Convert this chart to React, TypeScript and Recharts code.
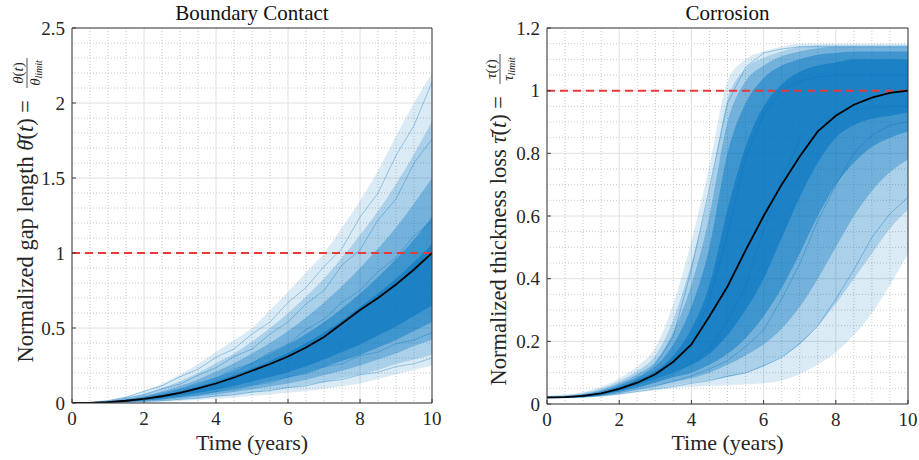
import React from 'react';
import { ComposedChart, Area, Line, XAxis, YAxis, CartesianGrid, ReferenceLine, Label } from 'recharts';

// ---------- data ----------
const TIME = [0, 0.5, 1, 1.5, 2, 2.5, 3, 3.5, 4, 4.5, 5, 5.5, 6, 6.5, 7, 7.5, 8, 8.5, 9, 9.5, 10];
const X_TICKS = [0, 2, 4, 6, 8, 10];
const X_MINOR = [0.5, 1, 1.5, 2.5, 3, 3.5, 4.5, 5, 5.5, 6.5, 7, 7.5, 8.5, 9, 9.5];
const LIMIT = 1;

// Boundary contact (left): mean path, density bands of the simulated paths (outer -> inner), sample paths
const L_Y_TICKS = [0, 0.5, 1, 1.5, 2, 2.5];
const L_Y_MINOR = [0.1, 0.2, 0.3, 0.4, 0.6, 0.7, 0.8, 0.9, 1.1, 1.2, 1.3, 1.4, 1.6, 1.7, 1.8, 1.9, 2.1, 2.2, 2.3, 2.4];
const L_MEAN = [0, 0.001, 0.006, 0.015, 0.028, 0.045, 0.068, 0.097, 0.13, 0.17, 0.215, 0.26, 0.31, 0.37, 0.44, 0.53, 0.62, 0.7, 0.79, 0.89, 1.0];
const L_B1_HI = [0, 0.006, 0.018, 0.045, 0.08, 0.13, 0.19, 0.26, 0.34, 0.42, 0.5, 0.62, 0.74, 0.87, 1.0, 1.17, 1.35, 1.55, 1.78, 2.0, 2.2];
const L_B1_LO = [0, 0, 0, 0.001, 0.004, 0.008, 0.013, 0.02, 0.028, 0.037, 0.047, 0.057, 0.068, 0.08, 0.095, 0.112, 0.13, 0.16, 0.19, 0.22, 0.25];
const L_B2_HI = [0, 0.004, 0.013, 0.034, 0.062, 0.1, 0.145, 0.2, 0.265, 0.33, 0.41, 0.5, 0.6, 0.71, 0.83, 0.97, 1.12, 1.28, 1.46, 1.66, 1.88];
const L_B2_LO = [0, 0, 0.001, 0.004, 0.008, 0.014, 0.022, 0.032, 0.043, 0.056, 0.07, 0.085, 0.1, 0.12, 0.14, 0.165, 0.19, 0.22, 0.26, 0.29, 0.32];
const L_B3_HI = [0, 0.003, 0.01, 0.026, 0.048, 0.077, 0.113, 0.157, 0.21, 0.265, 0.33, 0.4, 0.48, 0.57, 0.67, 0.78, 0.9, 1.03, 1.17, 1.33, 1.5];
const L_B3_LO = [0, 0, 0.002, 0.006, 0.012, 0.02, 0.03, 0.043, 0.057, 0.073, 0.09, 0.11, 0.13, 0.155, 0.185, 0.215, 0.25, 0.29, 0.33, 0.38, 0.42];
const L_B4_HI = [0, 0.002, 0.008, 0.021, 0.039, 0.063, 0.092, 0.128, 0.17, 0.215, 0.27, 0.33, 0.39, 0.46, 0.54, 0.63, 0.73, 0.84, 0.96, 1.09, 1.24];
const L_B4_LO = [0, 0, 0.003, 0.008, 0.016, 0.027, 0.04, 0.056, 0.074, 0.095, 0.118, 0.143, 0.17, 0.2, 0.24, 0.28, 0.32, 0.37, 0.42, 0.48, 0.54];
const L_B5_HI = [0, 0.0015, 0.007, 0.018, 0.033, 0.053, 0.078, 0.108, 0.145, 0.185, 0.23, 0.28, 0.335, 0.4, 0.47, 0.55, 0.64, 0.73, 0.83, 0.94, 1.06];
const L_B5_LO = [0, 0, 0.004, 0.01, 0.02, 0.033, 0.05, 0.068, 0.09, 0.115, 0.143, 0.173, 0.205, 0.245, 0.29, 0.34, 0.39, 0.45, 0.51, 0.58, 0.65];
const L_P1 = [0, 0.004, 0.016, 0.038, 0.078, 0.115, 0.175, 0.225, 0.305, 0.36, 0.46, 0.54, 0.67, 0.77, 0.91, 1.03, 1.24, 1.4, 1.65, 1.85, 2.14];
const L_P2 = [0, 0.003, 0.011, 0.032, 0.055, 0.094, 0.126, 0.185, 0.235, 0.31, 0.36, 0.46, 0.54, 0.66, 0.75, 0.92, 1.02, 1.22, 1.36, 1.6, 1.76];
const L_P3 = [0, 0, 0.002, 0.004, 0.011, 0.015, 0.025, 0.031, 0.047, 0.054, 0.072, 0.082, 0.103, 0.114, 0.142, 0.156, 0.188, 0.205, 0.243, 0.262, 0.3];
const L_P4 = [0, 0.001, 0.005, 0.009, 0.02, 0.026, 0.043, 0.052, 0.076, 0.088, 0.118, 0.135, 0.174, 0.194, 0.24, 0.262, 0.315, 0.34, 0.395, 0.42, 0.47];
const L_P5 = [0, 0.002, 0.008, 0.022, 0.038, 0.068, 0.092, 0.134, 0.166, 0.226, 0.264, 0.338, 0.392, 0.49, 0.56, 0.672, 0.75, 0.875, 0.97, 1.115, 1.21];

// Corrosion (right)
const R_Y_TICKS = [0, 0.2, 0.4, 0.6, 0.8, 1, 1.2];
const R_Y_MINOR = [0.05, 0.1, 0.15, 0.25, 0.3, 0.35, 0.45, 0.5, 0.55, 0.65, 0.7, 0.75, 0.85, 0.9, 0.95, 1.05, 1.1, 1.15];
const R_MEAN = [0.021, 0.022, 0.026, 0.034, 0.048, 0.068, 0.095, 0.135, 0.19, 0.28, 0.375, 0.49, 0.6, 0.7, 0.79, 0.87, 0.92, 0.955, 0.978, 0.993, 1.0];
const R_B1_HI = [0.027, 0.03, 0.038, 0.055, 0.082, 0.12, 0.18, 0.32, 0.52, 0.76, 1.03, 1.1, 1.125, 1.14, 1.15, 1.15, 1.15, 1.15, 1.15, 1.15, 1.15];
const R_B1_LO = [0.017, 0.018, 0.02, 0.023, 0.029, 0.036, 0.043, 0.05, 0.055, 0.058, 0.06, 0.062, 0.066, 0.075, 0.095, 0.125, 0.165, 0.22, 0.29, 0.38, 0.48];
const R_B2_HI = [0.025, 0.028, 0.035, 0.05, 0.073, 0.105, 0.155, 0.27, 0.45, 0.68, 0.97, 1.07, 1.105, 1.125, 1.14, 1.145, 1.145, 1.145, 1.145, 1.145, 1.145];
const R_B2_LO = [0.018, 0.019, 0.021, 0.025, 0.033, 0.042, 0.05, 0.06, 0.068, 0.076, 0.085, 0.1, 0.12, 0.15, 0.19, 0.25, 0.32, 0.4, 0.48, 0.56, 0.62];
const R_B3_HI = [0.024, 0.026, 0.032, 0.045, 0.066, 0.095, 0.135, 0.23, 0.38, 0.6, 0.9, 1.03, 1.08, 1.11, 1.125, 1.135, 1.14, 1.14, 1.14, 1.14, 1.14];
const R_B3_LO = [0.019, 0.02, 0.022, 0.027, 0.036, 0.047, 0.058, 0.07, 0.082, 0.1, 0.125, 0.155, 0.19, 0.24, 0.31, 0.4, 0.5, 0.6, 0.68, 0.74, 0.78];
const R_B4_HI = [0.023, 0.025, 0.03, 0.041, 0.06, 0.085, 0.12, 0.19, 0.31, 0.5, 0.8, 0.96, 1.04, 1.08, 1.1, 1.115, 1.12, 1.125, 1.125, 1.125, 1.125];
const R_B4_LO = [0.019, 0.02, 0.023, 0.029, 0.04, 0.053, 0.068, 0.085, 0.1, 0.125, 0.16, 0.21, 0.28, 0.37, 0.48, 0.6, 0.7, 0.77, 0.82, 0.85, 0.87];
const R_B5_HI = [0.022, 0.024, 0.028, 0.037, 0.054, 0.076, 0.105, 0.155, 0.24, 0.38, 0.62, 0.82, 0.95, 1.02, 1.06, 1.08, 1.09, 1.1, 1.1, 1.1, 1.1];
const R_B5_LO = [0.02, 0.021, 0.024, 0.031, 0.044, 0.06, 0.08, 0.1, 0.125, 0.16, 0.22, 0.3, 0.4, 0.53, 0.66, 0.77, 0.85, 0.89, 0.91, 0.92, 0.93];
const R_P1 = [0.02, 0.022, 0.027, 0.033, 0.052, 0.073, 0.124, 0.215, 0.43, 0.69, 0.96, 1.075, 1.12, 1.133, 1.14, 1.14, 1.14, 1.14, 1.14, 1.14, 1.14];
const R_P2 = [0.02, 0.021, 0.025, 0.033, 0.044, 0.067, 0.088, 0.134, 0.195, 0.335, 0.54, 0.785, 0.925, 1.0, 1.03, 1.044, 1.05, 1.05, 1.05, 1.05, 1.05];
const R_P3 = [0.02, 0.021, 0.024, 0.03, 0.041, 0.054, 0.074, 0.093, 0.133, 0.176, 0.265, 0.375, 0.555, 0.715, 0.845, 0.898, 0.93, 0.94, 0.945, 0.95, 0.95];
const R_P4 = [0.02, 0.021, 0.023, 0.028, 0.036, 0.047, 0.057, 0.073, 0.089, 0.112, 0.138, 0.183, 0.236, 0.335, 0.447, 0.585, 0.698, 0.8, 0.858, 0.89, 0.9];
const R_P5 = [0.02, 0.02, 0.022, 0.026, 0.032, 0.04, 0.048, 0.056, 0.066, 0.074, 0.089, 0.099, 0.122, 0.148, 0.193, 0.248, 0.335, 0.428, 0.532, 0.607, 0.66];

type Row = { [k: string]: number | number[] };
const build = (mean: number[], bands: number[][][], paths: number[][]): Row[] =>
  TIME.map((t, i) => {
    const row: Row = { t, mean: mean[i] };
    bands.forEach(([lo, hi], k) => {
      row['b' + (k + 1)] = [lo[i], hi[i]];
    });
    paths.forEach((p, k) => {
      row['p' + (k + 1)] = p[i];
    });
    return row;
  });

const LEFT_DATA = build(
  L_MEAN,
  [
    [L_B1_LO, L_B1_HI],
    [L_B2_LO, L_B2_HI],
    [L_B3_LO, L_B3_HI],
    [L_B4_LO, L_B4_HI],
    [L_B5_LO, L_B5_HI],
  ],
  [L_P1, L_P2, L_P3, L_P4, L_P5],
);
const RIGHT_DATA = build(
  R_MEAN,
  [
    [R_B1_LO, R_B1_HI],
    [R_B2_LO, R_B2_HI],
    [R_B3_LO, R_B3_HI],
    [R_B4_LO, R_B4_HI],
    [R_B5_LO, R_B5_HI],
  ],
  [R_P1, R_P2, R_P3, R_P4, R_P5],
);

// ---------- style ----------
const FONT = "'Liberation Serif', 'Noto Serif', 'DejaVu Serif', 'Noto Sans', sans-serif";
const BLUE = '#0072BD';
const BAND_OPACITY = [0.14, 0.22, 0.32, 0.45, 0.55];
const PATH_KEYS = ['p1', 'p2', 'p3', 'p4', 'p5'];
const AXIS = '#3a3a3a';
const TXT = '#262626';

const YLabel = ({ bx, ey, text, sym, size }: { bx: number; ey: number; text: string; sym: string; size: number }) => (
  <g transform={`translate(${bx},${ey}) rotate(-90)`} fill={TXT}>
    <text x={0} y={0} textAnchor="end" fontSize={size} fontFamily={FONT}>
      {text}
      <tspan fontStyle="italic">{sym + '\u0304'}</tspan>(<tspan fontStyle="italic">t</tspan>) =
    </text>
    <text x={27} y={-10} textAnchor="middle" fontSize={15} fontFamily={FONT}>
      <tspan fontStyle="italic">{sym}</tspan>(<tspan fontStyle="italic">t</tspan>)
    </text>
    <line x1={12} x2={42} y1={-6} y2={-6} stroke={TXT} strokeWidth={0.8} />
    <text x={27} y={7} textAnchor="middle" fontSize={15} fontFamily={FONT}>
      <tspan fontStyle="italic">{sym}</tspan>
      <tspan fontStyle="italic" fontSize={10} dy={2}>limit</tspan>
    </text>
  </g>
);

type PanelProps = {
  data: Row[];
  width: number;
  yAxisWidth: number;
  rightMargin: number;
  xAxisHeight: number;
  yMax: number;
  yTicks: number[];
  yMinor: number[];
  title: string;
  yText: string;
  sym: string;
  labelX: number;
  labelEnd: number;
  labelSize: number;
};

const tickStyle = { fill: TXT, fontSize: 19, fontFamily: FONT };

const Panel = (p: PanelProps) => {
  const plotCx = p.yAxisWidth + (p.width - p.yAxisWidth - p.rightMargin) / 2;
  return (
    <ComposedChart
      width={p.width}
      height={460}
      data={p.data}
      margin={{ top: 27, right: p.rightMargin - 1, left: 0, bottom: 0 }}
    >
      <CartesianGrid stroke="#c8c8c8" strokeDasharray="1 2" horizontalValues={p.yMinor} verticalValues={X_MINOR} />
      <CartesianGrid stroke="#e0e0e0" strokeWidth={1} />
      <XAxis
        dataKey="t"
        type="number"
        domain={[0, 10]}
        ticks={X_TICKS}
        interval={0}
        height={p.xAxisHeight}
        tickSize={-4}
        tickMargin={13}
        stroke={AXIS}
        tick={tickStyle}
        allowDataOverflow
      >
        <Label
          content={() => (
            <text x={plotCx} y={450} textAnchor="middle" fontSize={22} fill={TXT} fontFamily={FONT}>
              Time (years)
            </text>
          )}
        />
      </XAxis>
      <XAxis
        xAxisId="top"
        orientation="top"
        type="number"
        domain={[0, 10]}
        ticks={X_TICKS}
        interval={0}
        height={1}
        tickSize={-4}
        tick={false}
        stroke={AXIS}
      >
        <Label
          content={() => (
            <text x={plotCx} y={19.5} textAnchor="middle" fontSize={21} fill="#111" fontFamily={FONT}>
              {p.title}
            </text>
          )}
        />
      </XAxis>
      <YAxis
        type="number"
        domain={[0, p.yMax]}
        ticks={p.yTicks}
        interval={0}
        width={p.yAxisWidth}
        tickSize={-4}
        tickMargin={11}
        stroke={AXIS}
        tick={tickStyle}
        allowDataOverflow
      >
        <Label
          content={() => (
            <YLabel bx={p.labelX} ey={p.labelEnd} text={p.yText} sym={p.sym} size={p.labelSize} />
          )}
        />
      </YAxis>
      <YAxis
        yAxisId="right"
        orientation="right"
        type="number"
        domain={[0, p.yMax]}
        ticks={p.yTicks}
        interval={0}
        width={1}
        tickSize={-4}
        tick={false}
        stroke={AXIS}
      />
      {BAND_OPACITY.map((op, k) => (
        <Area key={'b' + k} dataKey={'b' + (k + 1)} type="monotone" stroke="none" fill={BLUE} fillOpacity={op} isAnimationActive={false} />
      ))}
      {PATH_KEYS.map((key) => (
        <Line key={key} dataKey={key} type="linear" stroke={BLUE} strokeOpacity={0.35} strokeWidth={1} dot={false} isAnimationActive={false} />
      ))}
      <ReferenceLine y={LIMIT} stroke="#E8393B" strokeWidth={2} strokeDasharray="8 5" />
      <Line dataKey="mean" type="linear" stroke="#000" strokeWidth={1.8} dot={false} isAnimationActive={false} />
    </ComposedChart>
  );
};

export default function App() {
  return (
    <div style={{ position: 'absolute', left: 0, top: 0, width: 919, height: 460, background: '#fff' }}>
      <div style={{ position: 'absolute', left: 0, top: 0 }}>
        <Panel
          data={LEFT_DATA}
          width={460}
          yAxisWidth={72}
          rightMargin={28}
          xAxisHeight={57}
          yMax={2.5}
          yTicks={L_Y_TICKS}
          yMinor={L_Y_MINOR}
          title="Boundary Contact"
          yText="Normalized gap length "
          sym={'\u03B8'}
          labelX={33}
          labelEnd={100}
          labelSize={22.5}
        />
      </div>
      <div style={{ position: 'absolute', left: 460, top: 0 }}>
        <Panel
          data={RIGHT_DATA}
          width={459}
          yAxisWidth={87}
          rightMargin={11}
          xAxisHeight={56}
          yMax={1.2}
          yTicks={R_Y_TICKS}
          yMinor={R_Y_MINOR}
          title="Corrosion"
          yText="Normalized thickness loss "
          sym={'\u03C4'}
          labelX={46}
          labelEnd={96}
          labelSize={22.5}
        />
      </div>
    </div>
  );
}
